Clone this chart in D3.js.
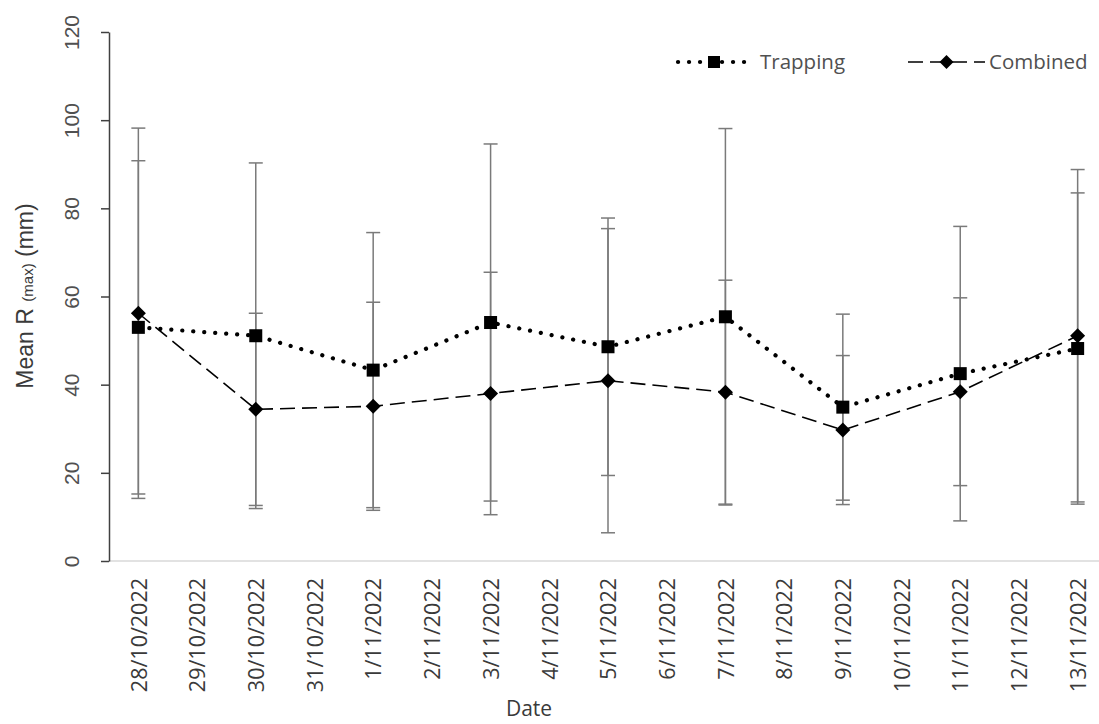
<!DOCTYPE html>
<html>
<head>
<meta charset="utf-8">
<script src="https://cdn.jsdelivr.net/npm/d3@7"></script>
<style>
  body { margin: 0; background: #fff; }
  svg { display: block; }
</style>
</head>
<body>
<svg width="1099" height="724"></svg>
<script>
const svg = d3.select("svg"),
      width = +svg.attr("width"),
      height = +svg.attr("height");

// x axis categories (every day shown on the axis)
const dates = ["28/10/2022","29/10/2022","30/10/2022","31/10/2022","1/11/2022","2/11/2022",
  "3/11/2022","4/11/2022","5/11/2022","6/11/2022","7/11/2022","8/11/2022","9/11/2022",
  "10/11/2022","11/11/2022","12/11/2022","13/11/2022"];

// days that were sampled
const sampleDates = ["28/10/2022","30/10/2022","1/11/2022","3/11/2022","5/11/2022",
  "7/11/2022","9/11/2022","11/11/2022","13/11/2022"];

const trappingMean = [53.0, 51.1, 43.3, 54.1, 48.6, 55.4, 34.9, 42.5, 48.2];
const trappingSD   = [37.8, 39.2, 31.2, 40.5, 29.2, 42.7, 21.1, 33.4, 35.3];
const combinedMean = [56.2, 34.4, 35.1, 38.0, 40.9, 38.3, 29.7, 38.4, 51.1];
const combinedSD   = [42.0, 21.8, 23.6, 27.5, 34.5, 25.4, 16.9, 21.3, 37.7];

const yTicks = [0, 20, 40, 60, 80, 100, 120];

const colors = {
  text: "#505050",
  axis: "#404040",
  xAxis: "#d9d9d9",
  errBar: "#7a7a7a",
  series: "#000"
};

const x = d3.scalePoint().domain(dates).range([109, 1107]).padding(0.5);
const y = d3.scaleLinear().domain([0, 120]).range([561, 32]);

const series = [
  {name: "Trapping", mean: trappingMean, sd: trappingSD, dash: "0.1 10.9", width: 4.2, cap: "round", marker: "square"},
  {name: "Combined", mean: combinedMean, sd: combinedSD, dash: "15 7", width: 1.6, cap: "butt", marker: "diamond"}
];

series.forEach(function(s) {
  s.points = sampleDates.map(function(d, i) {
    return {date: d, value: s.mean[i], sd: s.sd[i]};
  });
});

// x axis line (light grey)
svg.append("line")
  .attr("x1", 109).attr("x2", width)
  .attr("y1", y(0)).attr("y2", y(0))
  .attr("stroke", colors.xAxis).attr("stroke-width", 1.5);

// y axis
const yAxis = svg.append("g")
  .attr("transform", "translate(109,0)")
  .call(d3.axisLeft(y).tickValues(yTicks).tickSize(8).tickSizeOuter(0).tickFormat(d3.format("d")));
yAxis.select(".domain").attr("stroke", colors.axis).attr("stroke-width", 1.5);
yAxis.selectAll(".tick line").attr("stroke", colors.axis).attr("stroke-width", 1.5);
yAxis.selectAll(".tick text")
  .attr("fill", colors.text)
  .attr("font-family", "Liberation Sans, Arial, sans-serif")
  .attr("font-size", 21)
  .attr("text-anchor", "middle")
  .attr("x", 0)
  .attr("transform", "translate(-37,0) rotate(-90)")
  .attr("dy", "0.35em");

// x axis labels
const xAxis = svg.append("g")
  .attr("transform", "translate(0," + y(0) + ")")
  .call(d3.axisBottom(x).tickSize(0));
xAxis.select(".domain").remove();
xAxis.selectAll(".tick text")
  .attr("fill", "#3a3a3a")
  .attr("font-family", "Open Sans, sans-serif")
  .attr("font-size", 21.5)
  .attr("text-anchor", "end")
  .attr("y", 0)
  .attr("dy", "0.36em")
  .attr("transform", "translate(0,17) rotate(-90)");

// axis titles
svg.append("text")
  .attr("x", 529).attr("y", 716)
  .attr("text-anchor", "middle")
  .attr("fill", "#3a3a3a")
  .attr("font-family", "Open Sans, sans-serif")
  .attr("font-size", 21)
  .text("Date");

const yTitle = svg.append("text")
  .attr("transform", "translate(33,296) rotate(-90)")
  .attr("text-anchor", "middle")
  .attr("fill", "#3a3a3a")
  .attr("font-family", "Liberation Sans, Arial, sans-serif")
  .attr("font-size", 23);
yTitle.append("tspan").text("Mean R ");
yTitle.append("tspan").attr("font-size", 15).text("(max)");
yTitle.append("tspan").text(" (mm)");

// error bars
series.forEach(function(s) {
  const g = svg.append("g").attr("stroke", colors.errBar).attr("stroke-width", 1.5);
  g.selectAll(".bar").data(s.points).enter().append("line")
    .attr("x1", d => x(d.date)).attr("x2", d => x(d.date))
    .attr("y1", d => y(d.value + d.sd)).attr("y2", d => y(d.value - d.sd));
  g.selectAll(".capTop").data(s.points).enter().append("line")
    .attr("x1", d => x(d.date) - 7).attr("x2", d => x(d.date) + 7)
    .attr("y1", d => y(d.value + d.sd)).attr("y2", d => y(d.value + d.sd));
  g.selectAll(".capBottom").data(s.points).enter().append("line")
    .attr("x1", d => x(d.date) - 7).attr("x2", d => x(d.date) + 7)
    .attr("y1", d => y(d.value - d.sd)).attr("y2", d => y(d.value - d.sd));
});

const line = d3.line().x(d => x(d.date)).y(d => y(d.value));

const drawMarker = function(sel, type, size) {
  if (type == "square") {
    sel.append("rect")
      .attr("x", -size / 2).attr("y", -size / 2)
      .attr("width", size).attr("height", size)
      .attr("fill", colors.series);
  } else {
    sel.append("path")
      .attr("d", `M0,${-size/2}L${size/2},0L0,${size/2}L${-size/2},0Z`)
      .attr("fill", colors.series);
  }
};

// Combined drawn first, trapping on top
const drawOrder = [series[1], series[0]];
drawOrder.forEach(function(s) {
  svg.append("path")
    .datum(s.points)
    .attr("d", line)
    .attr("fill", "none")
    .attr("stroke", colors.series)
    .attr("stroke-width", s.width)
    .attr("stroke-linecap", s.cap)
    .attr("stroke-dasharray", s.dash);

  svg.append("g").selectAll("g").data(s.points).enter().append("g")
    .attr("transform", d => `translate(${x(d.date)},${y(d.value)})`)
    .each(function() {
      drawMarker(d3.select(this), s.marker, s.marker == "square" ? 13 : 15);
    });
});

// legend
const legendItems = [
  {s: series[0], x1: 678, x2: 750, label: 760},
  {s: series[1], x1: 908, x2: 985, label: 989}
];
legendItems.forEach(function(l) {
  const g = svg.append("g");
  g.append("line")
    .attr("x1", l.x1).attr("x2", l.x2).attr("y1", 62).attr("y2", 62)
    .attr("stroke", colors.series)
    .attr("stroke-width", l.s.width)
    .attr("stroke-linecap", l.s.cap)
    .attr("stroke-dasharray", l.s.dash);
  const m = g.append("g").attr("transform", `translate(${(l.x1 + l.x2) / 2},62)`);
  drawMarker(m, l.s.marker, l.s.marker == "square" ? 12 : 14);
  g.append("text")
    .attr("x", l.label).attr("y", 62).attr("dy", "0.35em")
    .attr("fill", colors.text)
    .attr("font-family", "Open Sans, sans-serif")
    .attr("font-size", 20.5)
    .text(l.s.name);
});
</script>
</body>
</html>
